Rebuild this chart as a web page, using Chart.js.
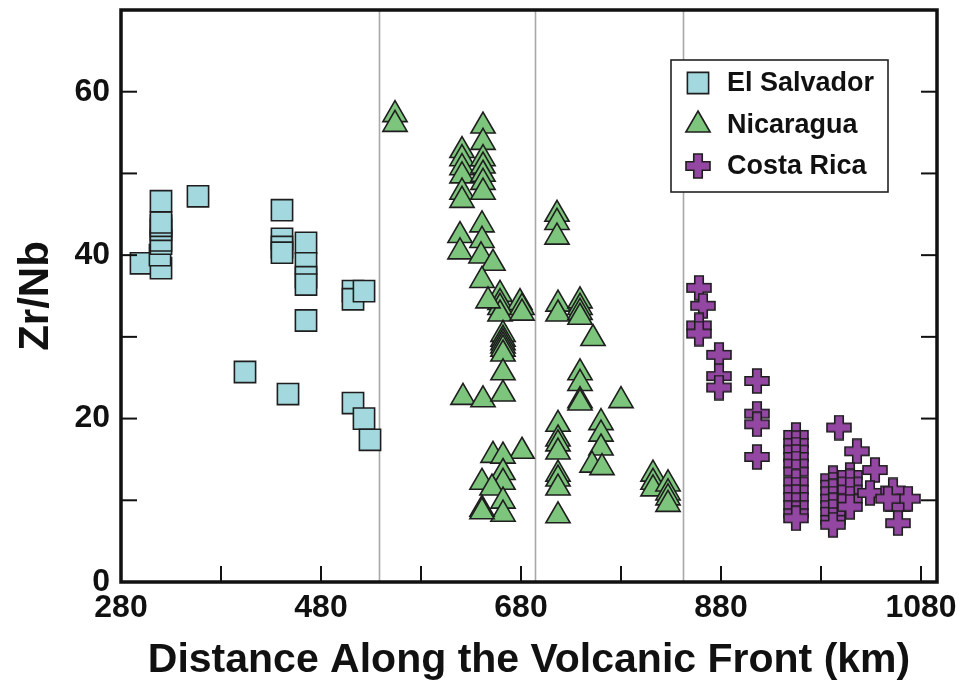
<!DOCTYPE html>
<html>
<head>
<meta charset="utf-8">
<script src="https://cdn.jsdelivr.net/npm/chart.js@4.4.1/dist/chart.umd.min.js"></script>
<style>
  html, body { margin: 0; padding: 0; background: #ffffff; }
  #wrap { width: 975px; height: 686px; position: relative; }
</style>
</head>
<body>
<div id="wrap"><canvas id="c" width="975" height="686"></canvas></div>
<script>
// ---------------- DATA ----------------
const seriesNames = ['El Salvador', 'Nicaragua', 'Costa Rica'];

const elSalvador = [
  [300,39.0],[320,38.4],[319,40.0],[320,41.4],[320,41.8],[320,43.1],[320,43.6],[320,44.0],[320,46.6],
  [357,47.2],[441,45.5],[441,42.0],[441,41.0],[441,40.3],
  [465,41.5],[465,39.0],[465,37.3],[465,36.4],[465,32.0],
  [512,35.6],[512,34.6],[523,35.6],
  [404,25.7],[447,23.0],[512,21.9],[523,20.0],[529,17.4]
];

const nicaragua = [
  [554,57.2],[554,56.0],
  [621,52.8],[621,51.8],[621,50.7],[621,49.7],[621,47.7],[621,46.7],
  [642,55.8],[642,53.8],[642,51.8],[642,50.9],[642,49.9],[642,48.9],[642,47.7],
  [619,42.4],[619,40.4],[641,43.7],[641,41.8],[640,39.9],[652,39.0],[641,36.9],
  [659,35.2],[659,34.2],[679,34.2],[659,33.6],[659,32.8],[681,33.6],[681,32.9],[647,34.4],
  [662,30.3],[662,29.7],[662,29.3],[662,28.9],[662,28.5],[662,27.9],[662,25.6],
  [622,22.6],[642,22.3],[662,23.0],
  [681,16.0],[652,15.5],[662,15.4],[662,13.4],[662,12.2],[641,12.2],[651,11.5],[662,9.9],[662,8.3],[641,8.9],[641,8.6],
  [716,45.0],[716,44.0],[716,42.2],
  [717,34.0],[717,32.8],[739,34.4],[739,33.6],[739,33.0],[739,32.4],[752,29.8],
  [739,25.6],[739,24.3],[739,22.2],[739,21.9],[780,22.2],
  [717,19.3],[717,17.5],[717,16.9],[717,15.9],[717,13.2],[717,12.6],[717,11.5],[717,8.1],
  [760,19.5],[760,18.1],[760,16.4],[751,14.3],[761,14.0],
  [812,13.2],[812,12.2],[812,11.4],[827,12.0],[827,10.9],[827,10.3],[827,9.5]
];

const costaRica = [
  [858,36.0],[862,33.8],[858,31.4],[858,30.4],
  [878,27.8],[878,25.2],[878,23.8],
  [916,24.6],[916,20.6],[916,19.3],[916,15.3],
  [955,18.0],[955,17.0],[955,16.2],[955,15.3],[955,14.5],[955,13.5],[955,12.3],[955,11.3],[955,10.4],[955,9.4],[955,8.4],[955,7.8],
  [998,18.9],[1016,16.0],
  [992,12.7],[992,11.9],[992,11.1],[992,10.2],[992,9.4],[992,8.6],[992,7.6],[992,7.0],
  [1009,13.1],[1009,12.3],[1009,11.3],[1009,10.2],[1009,9.2],
  [1034,13.7],[1029,10.9],[1052,11.2],[1057,9.2],[1057,7.2],[1067,10.2],[1047,10.2]
];

const xTickValues = [280,380,480,580,680,780,880,980,1080];
const xTickLabels = ['280','','480','','680','','880','','1080'];
const yTickValues = [0,10,20,30,40,50,60];
const yTickLabels = ['0','','20','','40','','60'];
const dividerLines = [538, 694, 842];

// ---------------- STYLE ----------------
const FONT = "'Liberation Sans', Arial, Helvetica, sans-serif";
const INK = '#111111';
const EDGE = '#1e1e1e';
const colES = '#a3d8de';
const colNI = '#7dc47c';
const colCR = '#9447a2';

function makePlus(size, arm, fill, stroke) {
  const c = document.createElement('canvas');
  c.width = size; c.height = size;
  const g = c.getContext('2d');
  const h = size / 2, a = arm / 2, L = h - 1;
  g.beginPath();
  g.moveTo(h - a, h - L); g.lineTo(h + a, h - L); g.lineTo(h + a, h - a);
  g.lineTo(h + L, h - a); g.lineTo(h + L, h + a); g.lineTo(h + a, h + a);
  g.lineTo(h + a, h + L); g.lineTo(h - a, h + L); g.lineTo(h - a, h + a);
  g.lineTo(h - L, h + a); g.lineTo(h - L, h - a); g.lineTo(h - a, h - a);
  g.closePath();
  g.fillStyle = fill; g.fill();
  g.lineWidth = 1.6; g.strokeStyle = stroke; g.stroke();
  return c;
}
const plusImg = makePlus(26, 8.5, colCR, EDGE);

const toPts = arr => arr.map(p => ({x: p[0], y: p[1]}));

const datasets = [
  { label: seriesNames[0], data: toPts(elSalvador), pointStyle: 'rect', pointRadius: 15,
    backgroundColor: colES, borderColor: EDGE, borderWidth: 1.6 },
  { label: seriesNames[1], data: toPts(nicaragua), pointStyle: 'triangle', pointRadius: 14,
    backgroundColor: colNI, borderColor: EDGE, borderWidth: 1.6 },
  { label: seriesNames[2], data: toPts(costaRica), pointStyle: plusImg, pointRadius: 13,
    backgroundColor: colCR, borderColor: EDGE, borderWidth: 1.6 }
];

const framePlugin = {
  id: 'frame',
  beforeDatasetsDraw(chart) {
    const {ctx, chartArea: a, scales: {x}} = chart;
    ctx.save();
    ctx.strokeStyle = '#a8a8a8';
    ctx.lineWidth = 1.6;
    dividerLines.forEach(v => {
      const px = Math.round(x.getPixelForValue(v)) + 0.5;
      ctx.beginPath(); ctx.moveTo(px, a.top); ctx.lineTo(px, a.bottom); ctx.stroke();
    });
    ctx.restore();
  },
  afterDatasetsDraw(chart) {
    const {ctx, chartArea: a, scales: {x, y}} = chart;
    ctx.save();
    ctx.strokeStyle = INK;
    ctx.lineWidth = 2;
    const TL = 16;
    xTickValues.forEach(v => {
      if (v === x.min) return;
      const px = x.getPixelForValue(v);
      ctx.beginPath(); ctx.moveTo(px, a.bottom); ctx.lineTo(px, a.bottom - TL); ctx.stroke();
    });
    yTickValues.forEach(v => {
      if (v === y.min) return;
      const py = y.getPixelForValue(v);
      ctx.beginPath(); ctx.moveTo(a.left, py); ctx.lineTo(a.left + TL, py); ctx.stroke();
      ctx.beginPath(); ctx.moveTo(a.right, py); ctx.lineTo(a.right - TL, py); ctx.stroke();
    });
    ctx.lineWidth = 3.5;
    ctx.strokeRect(a.left, a.top, a.right - a.left, a.bottom - a.top);
    ctx.restore();
  },
  afterDraw(chart) {
    const {ctx} = chart;
    const box = {x: 671, y: 60, w: 217, h: 132};
    ctx.save();
    ctx.fillStyle = '#ffffff';
    ctx.fillRect(box.x, box.y, box.w, box.h);
    ctx.strokeStyle = '#222';
    ctx.lineWidth = 1.6;
    ctx.strokeRect(box.x, box.y, box.w, box.h);
    const rows = [83, 125, 166];
    chart.data.datasets.forEach((ds, i) => {
      ctx.fillStyle = ds.backgroundColor;
      ctx.strokeStyle = ds.borderColor;
      ctx.lineWidth = ds.borderWidth;
      Chart.helpers.drawPoint(ctx, {pointStyle: ds.pointStyle, radius: ds.pointRadius, rotation: 0, borderWidth: ds.borderWidth}, 698, rows[i]);
      ctx.fillStyle = INK;
      ctx.font = "bold 27px " + FONT;
      ctx.textBaseline = 'middle';
      ctx.textAlign = 'left';
      ctx.fillText(ds.label, 727, rows[i] + 1);
    });
    ctx.restore();
  }
};

new Chart(document.getElementById('c'), {
  type: 'scatter',
  data: { datasets },
  options: {
    responsive: false,
    animation: false,
    events: [],
    devicePixelRatio: 1,
    layout: { autoPadding: false, padding: { left: 0, top: 10, right: 38, bottom: 0 } },
    plugins: { legend: { display: false }, tooltip: { enabled: false } },
    scales: {
      x: {
        type: 'linear', min: 280, max: 1096,
        afterBuildTicks: s => { s.ticks = xTickValues.map(v => ({value: v})); },
        afterFit: s => { s.height = 104; s.paddingLeft = 0; s.paddingRight = 0; },
        grid: { display: false, drawTicks: false },
        border: { display: false },
        ticks: {
          autoSkip: false, maxRotation: 0, minRotation: 0, padding: 7, color: INK,
          font: { family: FONT, size: 32, weight: 'bold' },
          callback: v => xTickLabels[xTickValues.indexOf(v)]
        },
        title: {
          display: true, text: 'Distance Along the Volcanic Front (km)', color: INK,
          font: { family: FONT, size: 41, weight: 'bold', lineHeight: 1 },
          padding: { top: 0, bottom: 5 }
        }
      },
      y: {
        type: 'linear', min: 0, max: 70,
        afterBuildTicks: s => { s.ticks = yTickValues.map(v => ({value: v})); },
        afterFit: s => { s.width = 121; s.paddingTop = 0; s.paddingBottom = 0; },
        grid: { display: false, drawTicks: false },
        border: { display: false },
        ticks: {
          autoSkip: false, padding: 11, color: INK,
          font: { family: FONT, size: 32, weight: 'bold' },
          callback: v => yTickLabels[yTickValues.indexOf(v)]
        },
        title: {
          display: true, text: 'Zr/Nb', color: INK,
          font: { family: FONT, size: 42, weight: 'bold', lineHeight: 1 },
          padding: { top: 15, bottom: 0 }
        }
      }
    }
  },
  plugins: [framePlugin]
});
</script>
</body>
</html>
